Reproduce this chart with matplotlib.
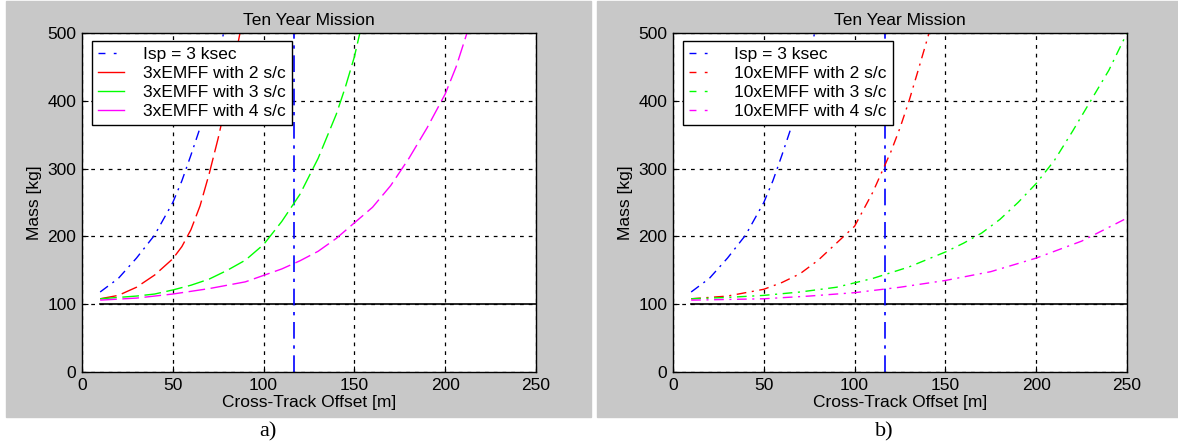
import matplotlib
matplotlib.use("Agg")
import matplotlib.pyplot as plt
from matplotlib.lines import Line2D
from matplotlib.patches import Rectangle

plt.rcParams['font.family'] = ['Liberation Sans', 'DejaVu Sans']

# данные
title = "Ten Year Mission"
xlabel = "Cross-Track Offset [m]"
ylabel = "Mass [kg]"
isp_x = [10, 20, 30, 40, 50, 55, 60, 65, 70, 78]
isp_y = [118, 138, 168, 202, 250, 282, 320, 360, 410, 500]
isp_limit = 117
base_x = [10, 250]
base_y = [100, 100]

# a) 3xEMFF
a_labels = ["Isp = 3 ksec", "3xEMFF with 2 s/c", "3xEMFF with 3 s/c", "3xEMFF with 4 s/c"]
a2_x = [10, 20, 30, 40, 50, 55, 60, 65, 70, 75, 80, 87]
a2_y = [108, 113, 125, 143, 167, 185, 210, 245, 292, 345, 405, 500]
a3_x = [10, 20, 30, 40, 50, 60, 70, 80, 90, 100, 110, 120, 130, 140, 145, 150, 153]
a3_y = [108, 110, 112, 115, 121, 128, 137, 150, 165, 188, 222, 262, 315, 380, 420, 465, 500]
a4_x = [10, 30, 50, 70, 90, 110, 120, 130, 140, 150, 160, 170, 180, 190, 200, 206, 212]
a4_y = [106, 109, 115, 123, 133, 152, 164, 178, 197, 220, 243, 275, 315, 360, 410, 450, 500]

# b) 10xEMFF
b_labels = ["Isp = 3 ksec", "10xEMFF with 2 s/c", "10xEMFF with 3 s/c", "10xEMFF with 4 s/c"]
b2_x = [10, 30, 50, 60, 70, 80, 90, 100, 105, 110, 115, 120, 125, 130, 135, 141]
b2_y = [108, 112, 122, 132, 145, 165, 190, 215, 240, 265, 295, 325, 360, 400, 445, 500]
b3_x = [10, 30, 50, 70, 90, 110, 130, 150, 160, 170, 180, 190, 200, 210, 220, 230, 240, 250]
b3_y = [108, 110, 113, 118, 125, 138, 155, 177, 190, 205, 225, 250, 278, 312, 355, 400, 445, 500]
b4_x = [10, 50, 75, 100, 125, 150, 175, 200, 225, 250]
b4_y = [106, 108, 112, 117, 125, 135, 148, 168, 193, 227]

colors = ['#0000ff', '#ff0000', '#00ff00', '#ff00ff']
gray = '#c8c8c8'

fig = plt.figure(figsize=(11.78, 4.48), dpi=100)
W, H = 1178, 448

# серые подложки как в MATLAB
fig.patches.append(Rectangle((6 / W, (H - 417) / H), 585 / W, 416 / H,
                             transform=fig.transFigure, color=gray, zorder=-10))
fig.patches.append(Rectangle((597 / W, (H - 417) / H), 581 / W, 416 / H,
                             transform=fig.transFigure, color=gray, zorder=-10))

dashdot = (0, (7, 4, 1.5, 4))
longdash = (0, (12, 4))


def setup(ax):
    ax.set_xlim(0, 250)
    ax.set_ylim(0, 500)
    ax.set_xticks([0, 50, 100, 150, 200, 250])
    ax.set_yticks([0, 100, 200, 300, 400, 500])
    ax.grid(True, color='black', linestyle=(0, (3, 4)), linewidth=0.9)
    ax.tick_params(direction='in', length=4, labelsize=12.5, pad=4, top=False, right=False)
    for s in ax.spines.values():
        s.set_linewidth(1.0)
    ax.set_title(title, fontsize=12.5, pad=6)
    ax.set_xlabel(xlabel, fontsize=12.5, labelpad=2)
    ax.set_ylabel(ylabel, fontsize=12.5, labelpad=4)
    ax.set_facecolor('white')


ax1 = fig.add_axes([82 / W, (H - 372) / H, 454 / W, 339 / H])
ax2 = fig.add_axes([673 / W, (H - 372) / H, 454 / W, 339 / H])

for ax in (ax1, ax2):
    setup(ax)
    ax.plot(base_x, base_y, color='black', linewidth=1.2)
    ax.plot(isp_x, isp_y, color=colors[0], linestyle=dashdot, linewidth=1)
    ax.axvline(isp_limit, color=colors[0], linestyle=(0, (10, 4, 2, 4)), linewidth=1.2)

# a)
ax1.plot(a2_x, a2_y, color=colors[1], linestyle=longdash, linewidth=1)
ax1.plot(a3_x, a3_y, color=colors[2], linestyle=longdash, linewidth=1)
ax1.plot(a4_x, a4_y, color=colors[3], linestyle=longdash, linewidth=1)
h1 = [Line2D([], [], color=colors[0], linestyle=(0, (5, 6, 2, 6)), linewidth=1)]
h1 += [Line2D([], [], color=c, linewidth=1) for c in colors[1:]]

# b)
ax2.plot(b2_x, b2_y, color=colors[1], linestyle=dashdot, linewidth=1)
ax2.plot(b3_x, b3_y, color=colors[2], linestyle=dashdot, linewidth=1)
ax2.plot(b4_x, b4_y, color=colors[3], linestyle=dashdot, linewidth=1)
h2 = [Line2D([], [], color=c, linestyle=(0, (5, 6, 2, 6)), linewidth=1) for c in colors]

for ax, h, lab in ((ax1, h1, a_labels), (ax2, h2, b_labels)):
    leg = ax.legend(h, lab, loc='upper left', bbox_to_anchor=(0.022, 0.976),
                    borderaxespad=0, fancybox=False, framealpha=1, edgecolor='black',
                    fontsize=12.5, handlelength=1.5, handletextpad=1.1,
                    labelspacing=0.22, borderpad=0.35)
    leg.get_frame().set_linewidth(1.0)

fig.text(268 / W, 1 - 432 / H, "a)", fontsize=16, family='Liberation Serif',
         ha='center', va='center')
fig.text(884 / W, 1 - 432 / H, "b)", fontsize=16, family='Liberation Serif',
         ha='center', va='center')

fig.savefig('out.png', dpi=100)
